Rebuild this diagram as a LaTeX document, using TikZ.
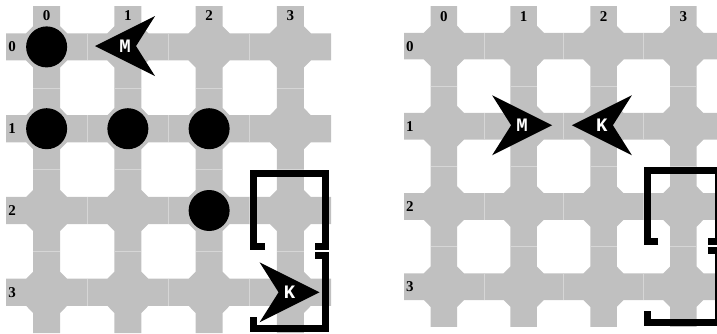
\documentclass[tikz,border=0pt]{standalone}
\usepackage{fontspec}
\setmainfont{Liberation Serif}
\newfontfamily\letterfont{Liberation Mono}
\definecolor{tilegray}{RGB}{192,192,192}
\definecolor{seamcol}{RGB}{214,214,214}
\def\tbw{0.166}
\def\tch{0.086}
\tikzset{
  tile/.pic={\fill[tilegray] (-\tbw,-0.5) -- (-\tbw,-\tbw-\tch) -- (-\tbw-\tch,-\tbw) -- (-0.5,-\tbw) -- (-0.5,\tbw) -- (-\tbw-\tch,\tbw) -- (-\tbw,\tbw+\tch) -- (-\tbw,0.5) -- (\tbw,0.5) -- (\tbw,\tbw+\tch) -- (\tbw+\tch,\tbw) -- (0.5,\tbw) -- (0.5,-\tbw) -- (\tbw+\tch,-\tbw) -- (\tbw,-\tbw-\tch) -- (\tbw,-0.5) -- cycle;},
  dartshape/.pic={\fill[black] (30pt,0pt) -- (-30pt,30pt) -- (-11pt,0pt) -- (-30pt,-30pt) -- cycle;},
  seamline/.style={draw=seamcol, line width=0.6pt},
  lbl/.style={font=\bfseries\fontsize{15}{15}\selectfont, inner sep=0pt},
  stone/.style={circle, fill=black, minimum size=41pt, inner sep=0pt},
  dartlbl/.style={text=white, font=\letterfont\bfseries\fontsize{19}{19}\selectfont, inner sep=0pt},
  wall/.style={draw=black, line width=7pt, line join=miter, line cap=butt}
}
\begin{document}
\begin{tikzpicture}[x=1pt,y=-1pt]
\useasboundingbox (0,0) rectangle (717,333);
\clip (0,0) rectangle (717,333);
% ---------------- left grid ----------------
\begin{scope}[shift={(6,6)}, x=81.25pt, y=-81.8pt]
  \foreach \i in {0,...,3} \foreach \j in {0,...,3} { \pic at (\i+0.5,\j+0.5) {tile}; }
  \foreach \k in {1,2,3} \foreach \j in {0,...,3} {
    \draw[seamline] (\k,\j+0.5-\tbw) -- (\k,\j+0.5+\tbw);
    \draw[seamline] (\j+0.5-\tbw,\k) -- (\j+0.5+\tbw,\k);
  }
  \foreach \k in {0,...,3} {
    \node[lbl] (Lc\k) at (\k+0.5,0.122) {\k};
    \node[lbl] (Lr\k) at (0.074,\k+0.5) {\k};
  }
  \draw[wall] (3.188,2.937) -- (3.045,2.937) -- (3.045,2.053) -- (3.935,2.053) -- (3.935,2.937) -- (3.805,2.937);
  \draw[wall] (3.805,3.044) -- (3.935,3.044) -- (3.935,3.947) -- (3.045,3.947) -- (3.045,3.80);
  \node[stone] (Ld00) at (0.5,0.5) {};
  \node[stone] (Ld01) at (0.5,1.5) {};
  \node[stone] (Ld11) at (1.5,1.5) {};
  \node[stone] (Ld21) at (2.5,1.5) {};
  \node[stone] (Ld22) at (2.5,2.5) {};
  \pic[rotate=180] at (1.465,0.49) {dartshape};
  \node[dartlbl] (LM) at (1.465,0.49) {M};
  \pic at (3.49,3.5) {dartshape};
  \node[dartlbl] (LK) at (3.49,3.5) {K};
\end{scope}
% ---------------- right grid ----------------
\begin{scope}[shift={(404,6)}, x=79.8pt, y=-80.2pt]
  \foreach \i in {0,...,3} \foreach \j in {0,...,3} { \pic at (\i+0.5,\j+0.5) {tile}; }
  \foreach \k in {1,2,3} \foreach \j in {0,...,3} {
    \draw[seamline] (\k,\j+0.5-\tbw) -- (\k,\j+0.5+\tbw);
    \draw[seamline] (\j+0.5-\tbw,\k) -- (\j+0.5+\tbw,\k);
  }
  \foreach \k in {0,...,3} {
    \node[lbl] (Rc\k) at (\k+0.5,0.13) {\k};
    \node[lbl] (Rr\k) at (0.075,\k+0.5) {\k};
  }
  \draw[wall] (3.188,2.937) -- (3.045,2.937) -- (3.045,2.053) -- (3.935,2.053) -- (3.935,2.937) -- (3.805,2.937);
  \draw[wall] (3.805,3.044) -- (3.935,3.044) -- (3.935,3.947) -- (3.045,3.947) -- (3.045,3.80);
  \pic at (1.48,1.487) {dartshape};
  \node[dartlbl] (RM) at (1.48,1.487) {M};
  \pic[rotate=180] at (2.48,1.487) {dartshape};
  \node[dartlbl] (RK) at (2.48,1.487) {K};
\end{scope}
\end{tikzpicture}
\end{document}
